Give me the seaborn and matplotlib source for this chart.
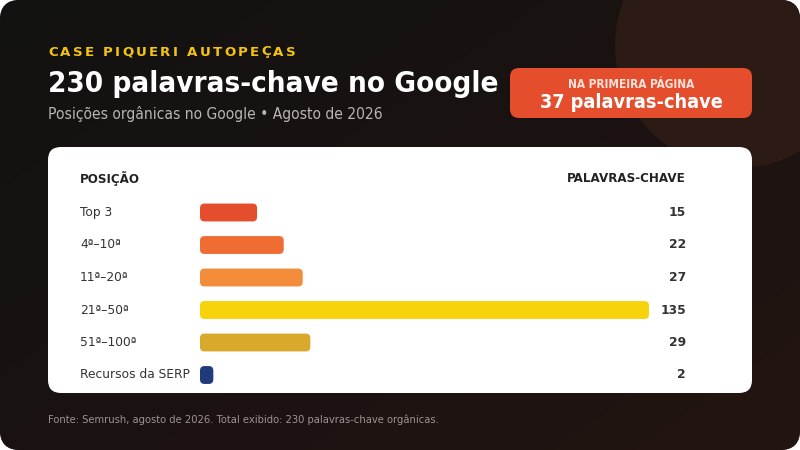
import numpy as np
import pandas as pd
import matplotlib
matplotlib.use("Agg")
import matplotlib.pyplot as plt
import seaborn as sns
from matplotlib.patches import FancyBboxPatch, Circle
from matplotlib.colors import LinearSegmentedColormap
import matplotlib.transforms as mtransforms

# ---------------- data ----------------
categories = ["Top 3", "4ª–10ª", "11ª–20ª", "21ª–50ª", "51ª–100ª", "Recursos da SERP"]
keywords = [15, 22, 27, 135, 29, 2]
bar_colors = ["#e54e2d", "#ef6d33", "#f38c3b", "#f7d30b", "#d8a92a", "#203a7a"]

kicker = "CASE PIQUERI AUTOPEÇAS"
title = "230 palavras-chave no Google"
subtitle = "Posições orgânicas no Google • Agosto de 2026"
badge_top = "NA PRIMEIRA PÁGINA"
badge_main = "37 palavras-chave"
col_left = "POSIÇÃO"
col_right = "PALAVRAS-CHAVE"
footer = "Fonte: Semrush, agosto de 2026. Total exibido: 230 palavras-chave orgânicas."

# ---------------- figure ----------------
sns.set_theme(style="white")
plt.rcParams["font.family"] = ["DejaVu Sans"]
W, H = 800, 450
fig = plt.figure(figsize=(8, 4.5), dpi=100, facecolor="white")

bg = fig.add_axes([0, 0, 1, 1])
bg.set_xlim(0, W)
bg.set_ylim(H, 0)
bg.axis("off")

outer = FancyBboxPatch((0, 0), W, H, boxstyle="round,pad=0,rounding_size=20",
                       facecolor="#151212", edgecolor="none", zorder=0)
bg.add_patch(outer)

# diagonal gradient background
gx, gy = np.meshgrid(np.linspace(0, 1, 200), np.linspace(0, 1, 120))
grad = np.clip(0.55 * gx + 0.45 * gy, 0, 1)
cmap = LinearSegmentedColormap.from_list("bgc", ["#121212", "#1a1211", "#231511"])
im = bg.imshow(grad, cmap=cmap, extent=(0, W, H, 0), aspect="auto", zorder=1)
im.set_clip_path(outer)

circ = Circle((738, 45), 123, facecolor="#2c1a15", edgecolor="none", zorder=2)
bg.add_patch(circ)
circ.set_clip_path(outer)

renderer = fig.canvas.get_renderer()


def spaced_text(x, y, s, spacing, **kw):
    for ch in s:
        if ch == " ":
            t = bg.text(x, y, "n", alpha=0, **kw)
            w = t.get_window_extent(renderer).width * 0.55
        else:
            t = bg.text(x, y, ch, **kw)
            w = t.get_window_extent(renderer).width
        x += w + spacing


spaced_text(48, 52, kicker, 2.2, color="#f5c40f", fontsize=9.6, fontweight="bold",
            va="center", ha="left", zorder=5)
bg.text(48, 84, title, color="white", fontsize=21.2, fontweight="bold",
        va="center", ha="left", zorder=5, fontstretch="condensed")
bg.text(48, 114, subtitle, color="#b9b4b2", fontsize=11.2,
        va="center", ha="left", zorder=5, fontstretch="condensed")

badge = FancyBboxPatch((510, 68), 242, 50, boxstyle="round,pad=0,rounding_size=9",
                       facecolor="#e44e2d", edgecolor="none", zorder=4)
bg.add_patch(badge)
bg.text(631, 84.5, badge_top, color="#fde3da", fontsize=8.5, fontweight="bold",
        va="center", ha="center", zorder=5, fontstretch="condensed")
bg.text(631, 102.5, badge_main, color="white", fontsize=14.2, fontweight="bold",
        va="center", ha="center", zorder=5, fontstretch="condensed")

card = FancyBboxPatch((48, 147), 704, 246, boxstyle="round,pad=0,rounding_size=13",
                      facecolor="white", edgecolor="none", zorder=3)
bg.add_patch(card)

bg.text(80, 178, col_left, color="#222222", fontsize=8.6, fontweight="bold",
        va="center", ha="left", zorder=5)
bg.text(686, 178, col_right, color="#222222", fontsize=8.6, fontweight="bold",
        va="center", ha="right", zorder=5)

bg.text(48, 420, footer, color="#9b9391", fontsize=7.2, va="center", ha="left", zorder=5)

# ---------------- bar chart ----------------
row_px = 32.5
first_row = 212.5
n = len(categories)
top_px = first_row - row_px / 2
height_px = n * row_px
x0_px, x1_px = 200, 649
x_max = 118            # visible value range; longer bars are capped at the column edge
min_w = 3.5            # minimum visible bar length

ax = fig.add_axes([x0_px / W, 1 - (top_px + height_px) / H,
                   (x1_px - x0_px) / W, height_px / H])
ax.patch.set_alpha(0)
df = pd.DataFrame({"pos": categories, "kw": keywords})
df["shown"] = df["kw"].clip(lower=min_w, upper=x_max)
sns.barplot(data=df, x="shown", y="pos", hue="pos", palette=bar_colors, saturation=1,
            orient="h", width=0.55, legend=False, ax=ax, zorder=4)
ax.set_xlim(0, x_max)
ax.set_ylim(n - 0.5, -0.5)
ax.axis("off")

x_per_px = x_max / (x1_px - x0_px)
y_per_px = n / height_px
r = 4.5 * x_per_px
asp = y_per_px / x_per_px
for p in list(ax.patches):
    x, y, w, h = p.get_x(), p.get_y(), p.get_width(), p.get_height()
    fc = p.get_facecolor()
    p.remove()
    ax.add_patch(FancyBboxPatch((x, y), w, h, boxstyle=f"round,pad=0,rounding_size={r}",
                                mutation_aspect=asp, facecolor=fc, edgecolor="none",
                                zorder=4, clip_on=False))

tr = mtransforms.blended_transform_factory(bg.transData, ax.transData)
for i, (c, v) in enumerate(zip(categories, keywords)):
    ax.text(80, i, c, transform=tr, color="#333333", fontsize=8.8,
            va="center", ha="left", zorder=5)
    ax.text(686, i, str(v), transform=tr, color="#333333", fontsize=8.8,
            fontweight="bold", va="center", ha="right", zorder=5)

fig.savefig("out.png", dpi=100, facecolor="white")
